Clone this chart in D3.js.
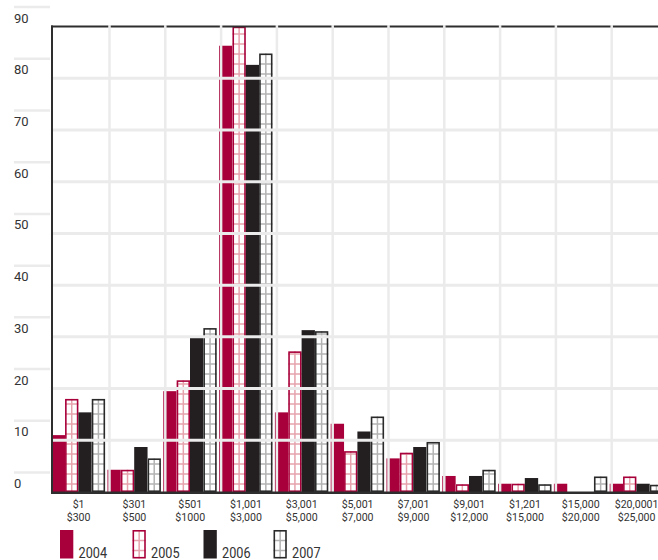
<!DOCTYPE html>
<html>
<head>
<meta charset="utf-8">
<script src="https://d3js.org/d3.v7.min.js"></script>
<style>
  body { margin: 0; background: #fff; }
  svg { display: block; }
  text { font-family: Roboto, "Liberation Sans", sans-serif; fill: #333; }
</style>
</head>
<body>
<script>
// categories (two-line tick labels)
var labelTop    = ["$1", "$301", "$501", "$1,001", "$3,001", "$5,001", "$7,001", "$9,001", "$1,201", "$15,000", "$20,0001"];
var labelBottom = ["$300", "$500", "$1000", "$3,000", "$5,000", "$7,000", "$9,000", "$12,000", "$15,000", "$20,000", "$25,000"];
var years = ["2004", "2005", "2006", "2007"];
var values2004 = [11, 4.3, 19.5, 86.3, 15.4, 13.2, 6.5, 3.1, 1.6, 1.6, 1.6];
var values2005 = [18, 4.3, 21.6, 90, 27.2, 7.9, 7.6, 1.5, 1.6, 0, 3.0];
var values2006 = [15.4, 8.7, 29.9, 82.6, 31.3, 11.7, 8.7, 3.1, 2.7, 0, 1.6];
var values2007 = [18, 6.5, 31.7, 84.8, 31.1, 14.6, 9.7, 4.3, 1.5, 3.0, 1.4];
var yTicks = [0, 10, 20, 30, 40, 50, 60, 70, 80, 90];

var series = [values2004, values2005, values2006, values2007];
var red = "#a8003a", black = "#231f20", grid = "#ebebeb";
var style = [
  {fill: red, stroke: null, hatch: null},
  {fill: "#fff", stroke: red, hatch: "#e6a3ad"},
  {fill: black, stroke: null, hatch: null},
  {fill: "#fff", stroke: "#2a2a2a", hatch: "#b3b3b3"}
];

var svg = d3.select("body").append("svg").attr("width", 658).attr("height", 560);

var x = d3.scaleBand().domain(d3.range(labelTop.length)).range([51.7, 51.7 + 11 * 55.8]);
var xs = d3.scaleBand().domain(d3.range(4)).range([0, 53.4]);
var y = d3.scaleLinear().domain([0, 90]).range([492, 26.6]);

// hatched bar: white box, centre line and rungs every 10px
function hatched(g, bx, by, bw, bh, st) {
  g.append("rect").attr("x", bx).attr("y", by).attr("width", bw).attr("height", bh).attr("fill", "#fff");
  var bottom = by + bh;
  d3.range(bottom - 8, by + 1, -10).forEach(function(yy) {
    g.append("line").attr("x1", bx).attr("x2", bx + bw).attr("y1", yy).attr("y2", yy)
      .attr("stroke", st.hatch).attr("stroke-width", 1.5);
  });
  g.append("line").attr("x1", bx + bw / 2).attr("x2", bx + bw / 2).attr("y1", by).attr("y2", bottom)
    .attr("stroke", st.hatch).attr("stroke-width", 1.5);
  g.append("rect").attr("x", bx + 0.8).attr("y", by + 0.8).attr("width", bw - 1.6).attr("height", Math.max(bh - 1.6, 0))
    .attr("fill", "none").attr("stroke", st.stroke).attr("stroke-width", 1.6);
}

// bars
var barG = svg.append("g");
series.forEach(function(vals, s) {
  vals.forEach(function(v, i) {
    if (v <= 0) return;
    var bx = x(i) + xs(s), bw = xs.bandwidth(), by = y(v), bh = y(0) - y(v);
    if (style[s].hatch) hatched(barG, bx, by, bw, bh, style[s]);
    else barG.append("rect").attr("x", bx).attr("y", by).attr("width", bw).attr("height", bh).attr("fill", style[s].fill);
  });
});

// frame: left and top
svg.append("line").attr("x1", 52).attr("x2", 52).attr("y1", y(90) - 1).attr("y2", y(0)).attr("stroke", "#2e2e2e").attr("stroke-width", 2);
svg.append("line").attr("x1", 51).attr("x2", 658).attr("y1", y(90)).attr("y2", y(90)).attr("stroke", "#2e2e2e").attr("stroke-width", 2);

// grid drawn over the bars
svg.append("g").selectAll("line").data(yTicks.filter(function(t) { return t > 0 && t < 90; }))
  .join("line")
  .attr("x1", 53).attr("x2", 658)
  .attr("y1", function(d) { return y(d); }).attr("y2", function(d) { return y(d); })
  .attr("stroke", grid).attr("stroke-width", 3);
svg.append("g").selectAll("line").data(d3.range(1, labelTop.length))
  .join("line")
  .attr("x1", function(i) { return x(i) + 2; }).attr("x2", function(i) { return x(i) + 2; })
  .attr("y1", y(90) - 1.5).attr("y2", y(0))
  .attr("stroke", grid).attr("stroke-width", 2.5);

// baseline
svg.append("line").attr("x1", 51).attr("x2", 658).attr("y1", y(0) + 0.8).attr("y2", y(0) + 0.8).attr("stroke", "#2e2e2e").attr("stroke-width", 2.4);

// y labels with their short rules
var yl = svg.append("g");
yTicks.forEach(function(t) {
  yl.append("line").attr("x1", 14).attr("x2", 50).attr("y1", y(t) - 19.5).attr("y2", y(t) - 19.5)
    .attr("stroke", grid).attr("stroke-width", 2.5);
  yl.append("text").attr("x", 14).attr("y", y(t) - 4).attr("font-size", 13).text(t);
});

// x labels (narrowed to mimic the condensed face)
var xl = svg.append("g").attr("text-anchor", "middle").attr("font-size", 11.8);
labelTop.forEach(function(l, i) {
  var cx = x(i) + x.bandwidth() / 2 - 1;
  xl.append("text").attr("transform", "translate(" + cx + ",507.5) scale(0.9,1)").text(l);
  xl.append("text").attr("transform", "translate(" + cx + ",521) scale(0.9,1)").text(labelBottom[i]);
});

// legend
var legX = [60, 132.5, 203.5, 273.5];
var leg = svg.append("g");
years.forEach(function(yr, s) {
  var st = style[s];
  if (st.hatch) hatched(leg, legX[s], 530, 13.3, 28.5, st);
  else leg.append("rect").attr("x", legX[s]).attr("y", 530).attr("width", 13.3).attr("height", 28.5).attr("fill", st.fill);
  leg.append("text").attr("transform", "translate(" + (legX[s] + 18.5) + ",557.5) scale(0.82,1)")
    .attr("font-size", 15.5).text(yr);
});
</script>
</body>
</html>
